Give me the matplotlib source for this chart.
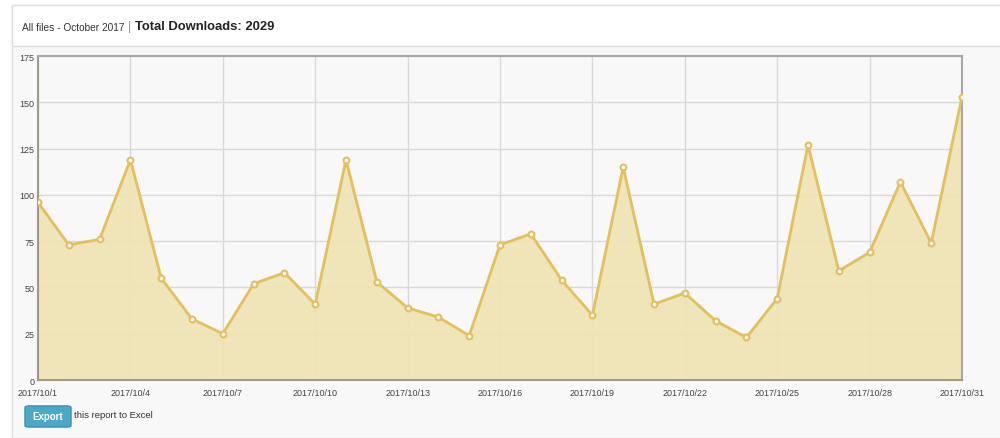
import matplotlib.pyplot as plt
from matplotlib.patches import Rectangle, FancyBboxPatch

plt.rcParams['font.family'] = ['Liberation Sans', 'DejaVu Sans']

days = list(range(1, 32))
downloads = [96, 73, 76, 119, 55, 33, 25, 52, 58, 41,
             119, 53, 39, 34, 24, 73, 79, 54, 35, 115,
             41, 47, 32, 23, 44, 127, 59, 69, 107, 74, 153]
tick_days = [1, 4, 7, 10, 13, 16, 19, 22, 25, 28, 31]
tick_labels = ["2017/10/%d" % d for d in tick_days]
y_ticks = [0, 25, 50, 75, 100, 125, 150, 175]

line_color = "#e3bf5e"
fill_color = "#f0e3b6"

fig = plt.figure(figsize=(10, 4.39), dpi=100)
fig.patch.set_facecolor("white")

# panel background and header box
fig.patches.append(Rectangle((0.012, 0.0), 0.99, 0.987, transform=fig.transFigure,
                             facecolor="#f8f8f8", edgecolor="#dddddd", lw=1, zorder=0))
fig.patches.append(Rectangle((0.012, 0.893), 0.99, 0.094, transform=fig.transFigure,
                             facecolor="white", edgecolor="#dddddd", lw=1, zorder=1))

fig.text(0.022, 0.936, "All files - October 2017", fontsize=7.3, color="#333333", va="center")
fig.text(0.128, 0.938, "|", fontsize=9, color="#999999", va="center")
fig.text(0.135, 0.938, "Total Downloads: 2029", fontsize=9.4, fontweight="bold",
         color="#222222", va="center")

ax = fig.add_axes([0.038, 0.132, 0.924, 0.738])
ax.set_zorder(5)
ax.set_facecolor("#f8f8f8")

ax.fill_between(days, downloads, 0, color=fill_color, alpha=0.95, zorder=2)
ax.plot(days, downloads, color=line_color, lw=2, zorder=3,
        marker="o", markersize=4.2, markerfacecolor="white",
        markeredgecolor=line_color, markeredgewidth=1.5)

ax.set_xlim(1, 31)
ax.set_ylim(0, 175)
ax.set_xticks(tick_days)
ax.set_xticklabels(tick_labels)
ax.set_yticks(y_ticks)
ax.tick_params(axis="both", length=0, labelsize=6.5, colors="#444444", pad=6)
ax.tick_params(axis="y", pad=2.5)
ax.grid(True, color="#d9d9d9", lw=1, zorder=1)
ax.set_axisbelow(True)
for side in ["top", "right"]:
    ax.spines[side].set_color("#a8a8a8")
    ax.spines[side].set_linewidth(1.5)
for side in ["left", "bottom"]:
    ax.spines[side].set_color("#a09a88")
    ax.spines[side].set_linewidth(1.5)

# export button
fig.patches.append(FancyBboxPatch((0.026, 0.026), 0.044, 0.046, transform=fig.transFigure,
                                  boxstyle="round,pad=0.001,rounding_size=0.004",
                                  facecolor="#4aa8c8", edgecolor="#3b8fae", lw=1, zorder=2))
fig.text(0.048, 0.050, "Export", fontsize=7, fontweight="bold", color="white",
         ha="center", va="center", zorder=3)
fig.text(0.074, 0.053, "this report to Excel", fontsize=6.8, color="#333333", va="center")

fig.savefig("out.png", dpi=100, facecolor=fig.get_facecolor())
